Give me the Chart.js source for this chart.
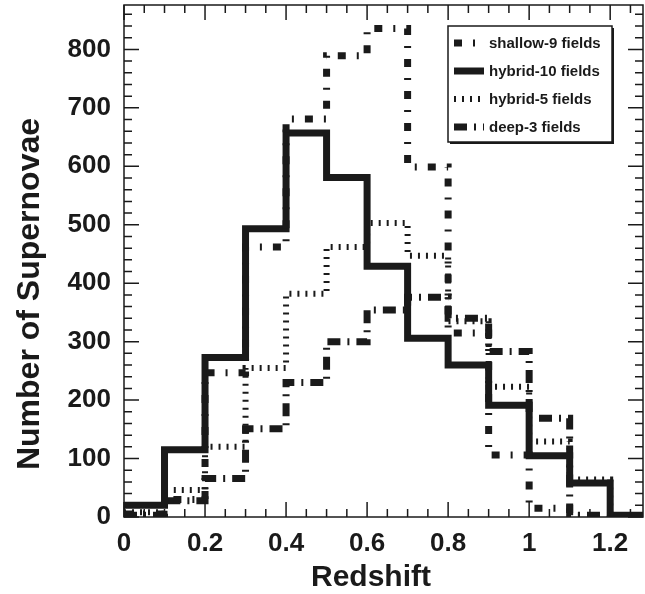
<!DOCTYPE html>
<html>
<head>
<meta charset="utf-8">
<script src="https://cdn.jsdelivr.net/npm/chart.js@4.4.1/dist/chart.umd.min.js"></script>
<style>
  html, body { margin: 0; padding: 0; background: #fff; }
</style>
</head>
<body>
<canvas id="redshiftHist" width="645" height="594"></canvas>
<script>
// low edge of each redshift bin, bins are 0.1 wide
const binEdges = [0, 0.1, 0.2, 0.3, 0.4, 0.5, 0.6, 0.7, 0.8, 0.9, 1.0, 1.1, 1.2];
const binWidth = 0.1;

// supernova counts per bin for each survey strategy
const shallow9 = [5, 30, 247, 462, 681, 789, 836, 599, 315, 106, 15, 2, 0];
const hybrid10 = [20, 115, 273, 493, 657, 581, 429, 306, 260, 191, 105, 58, 3];
const hybrid5  = [8, 46, 120, 255, 382, 462, 503, 447, 335, 223, 129, 64, 2];
const deep3    = [3, 28, 66, 151, 230, 300, 354, 376, 340, 283, 169, 3, 0];

const seriesNames = ["shallow-9 fields", "hybrid-10 fields", "hybrid-5 fields", "deep-3 fields"];
const xTitle = "Redshift";
const yTitle = "Number of Supernovae";

// axis ranges and minor tick spacing
const xMax = 1.281;
const yMax = 876;
const xMinorStep = 0.05;
const yMinorStep = 20;

const ink = "#1a1a1a";
const fontFamily = "'Liberation Sans', Arial, Helvetica, sans-serif";

// turn bin counts into step points (left edges + closing right edge)
var histPoints = values => {
    const pts = binEdges.map((x, i) => ({x: x, y: values[i]}));
    pts.push({x: binEdges[binEdges.length - 1] + binWidth, y: values[values.length - 1]});
    return pts;
};

var histDataset = (label, values, width, dash) => ({
    label: label,
    data: histPoints(values),
    borderColor: ink,
    borderWidth: width,
    borderDash: dash,
    borderCapStyle: "butt",
    borderJoinStyle: "miter",
    stepped: true,
    pointRadius: 0,
    fill: false
});

// keep the plot frame where it belongs, no extra room for edge labels
var noEdgePadding = scale => {
    scale.paddingTop = 0;
    scale.paddingBottom = 0;
    scale.paddingLeft = 0;
    scale.paddingRight = 0;
};

// frame with inward ticks on all four sides, plus the axis titles
const frameTicks = {
    id: "frameTicks",
    afterDatasetsDraw(chart) {
        const {ctx, chartArea: a, scales: {x, y}} = chart;
        ctx.save();
        ctx.strokeStyle = ink;
        ctx.lineWidth = 1.5;
        ctx.strokeRect(a.left, a.top, a.right - a.left, a.bottom - a.top);
        ctx.beginPath();
        for (let k = 0; k * xMinorStep <= x.max + 1e-9; k++) {
            const px = x.getPixelForValue(k * xMinorStep);
            const len = k % 4 === 0 ? 15 : 8;
            ctx.moveTo(px, a.bottom); ctx.lineTo(px, a.bottom - len);
            ctx.moveTo(px, a.top); ctx.lineTo(px, a.top + len);
        }
        for (let k = 0; k * yMinorStep <= y.max + 1e-9; k++) {
            const py = y.getPixelForValue(k * yMinorStep);
            const len = k % 5 === 0 ? 15 : 8;
            ctx.moveTo(a.left, py); ctx.lineTo(a.left + len, py);
            ctx.moveTo(a.right, py); ctx.lineTo(a.right - len, py);
        }
        ctx.stroke();

        // axis titles, placed by hand since they sit off the axis centre
        ctx.fillStyle = ink;
        ctx.textAlign = "center";
        ctx.textBaseline = "middle";
        ctx.font = "bold 30px " + fontFamily;
        ctx.fillText(xTitle, 371, 578);
        ctx.translate(30, 294);
        ctx.rotate(-Math.PI / 2);
        ctx.font = "bold 32px " + fontFamily;
        ctx.fillText(yTitle, 0, 0);
        ctx.restore();
    }
};

// boxed legend in the upper right of the plot
const boxLegend = {
    id: "boxLegend",
    afterDraw(chart) {
        const ctx = chart.ctx;
        const box = {left: 448, top: 26, right: 612, bottom: 142};
        ctx.save();
        ctx.fillStyle = ink;
        ctx.fillRect(box.left + 2, box.top + 2, box.right - box.left, box.bottom - box.top);
        ctx.fillStyle = "#fff";
        ctx.fillRect(box.left, box.top, box.right - box.left, box.bottom - box.top);
        ctx.strokeStyle = ink;
        ctx.lineWidth = 1.5;
        ctx.strokeRect(box.left, box.top, box.right - box.left, box.bottom - box.top);

        const rowY = [43, 71, 99, 127];
        ctx.font = "bold 15px " + fontFamily;
        ctx.textBaseline = "middle";
        chart.data.datasets.forEach((ds, i) => {
            ctx.beginPath();
            ctx.lineWidth = ds.borderWidth;
            ctx.lineCap = "butt";
            ctx.setLineDash(ds.borderDash);
            ctx.moveTo(454, rowY[i]);
            ctx.lineTo(484, rowY[i]);
            ctx.stroke();
            ctx.setLineDash([]);
            ctx.fillStyle = ink;
            ctx.fillText(ds.label, 489, rowY[i] + 1);
        });
        ctx.restore();
    }
};

Chart.defaults.font.family = fontFamily;
Chart.defaults.color = ink;

const chart = new Chart(document.getElementById("redshiftHist"), {
    type: "line",
    data: {
        datasets: [
            histDataset(seriesNames[0], shallow9, 7, [8, 11, 2, 11]),
            histDataset(seriesNames[1], hybrid10, 7, []),
            histDataset(seriesNames[2], hybrid5, 6, [2, 6]),
            histDataset(seriesNames[3], deep3, 7, [13, 7, 2, 7])
        ]
    },
    options: {
        responsive: false,
        animation: false,
        devicePixelRatio: 1,
        layout: {padding: {top: 5, right: 2, left: 0, bottom: 0}},
        plugins: {
            legend: {display: false},
            tooltip: {enabled: false}
        },
        scales: {
            x: {
                type: "linear",
                min: 0,
                max: xMax,
                grid: {display: false},
                border: {display: false},
                ticks: {
                    stepSize: 0.2,
                    includeBounds: false,
                    maxRotation: 0,
                    autoSkip: false,
                    padding: 3,
                    font: {size: 26, weight: "bold"},
                    callback: v => String(+v.toFixed(1))
                },
                afterFit(scale) {
                    noEdgePadding(scale);
                    scale.height = 77;
                }
            },
            y: {
                min: 0,
                max: yMax,
                grid: {display: false},
                border: {display: false},
                ticks: {
                    stepSize: 100,
                    includeBounds: false,
                    padding: 5,
                    font: {size: 26, weight: "bold"}
                },
                afterFit(scale) {
                    noEdgePadding(scale);
                    scale.width = 124;
                }
            }
        }
    },
    plugins: [frameTicks, boxLegend]
});
</script>
</body>
</html>
